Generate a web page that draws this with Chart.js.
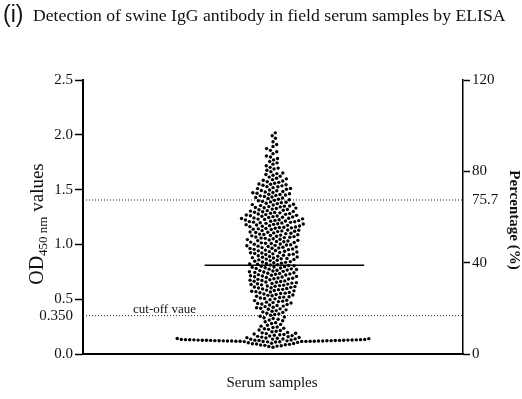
<!DOCTYPE html>
<html>
<head>
<meta charset="utf-8">
<script src="https://cdn.jsdelivr.net/npm/chart.js@4"></script>
<style>
  body { margin: 0; background: #fff; }
  canvas { display: block; }
</style>
</head>
<body>
<canvas id="c" width="522" height="399"></canvas>
<script>
// OD450 values (one per serum sample, estimated per band)
const odValues = [
  2.018, 1.968, 1.992, 1.912, 1.937, 1.858, 1.874, 1.893, 1.806, 1.828, 1.845,
  1.756, 1.771, 1.784, 1.797, 1.703, 1.718, 1.732, 1.744,
  1.652, 1.664, 1.677, 1.689, 1.696, 1.603, 1.614, 1.622, 1.631, 1.638, 1.646,
  1.551, 1.558, 1.566, 1.572, 1.579, 1.585, 1.591, 1.598,
  1.503, 1.509, 1.511, 1.518, 1.526, 1.527, 1.534, 1.540, 1.544, 1.549,
  1.451, 1.455, 1.458, 1.462, 1.467, 1.471, 1.474, 1.478, 1.483, 1.489, 1.492, 1.497,
  1.402, 1.408, 1.413, 1.419, 1.424, 1.428, 1.433, 1.438, 1.443, 1.447,
  1.351, 1.354, 1.359, 1.363, 1.366, 1.372, 1.375, 1.381, 1.384, 1.388, 1.393, 1.398,
  1.301, 1.304, 1.308, 1.311, 1.316, 1.319, 1.322, 1.327, 1.331, 1.334, 1.337, 1.342, 1.345, 1.349,
  1.251, 1.253, 1.257, 1.259, 1.262, 1.265, 1.268, 1.272, 1.274, 1.277, 1.281, 1.284, 1.288, 1.291, 1.294, 1.298,
  1.201, 1.203, 1.206, 1.208, 1.211, 1.214, 1.217, 1.219, 1.222, 1.225, 1.228, 1.231, 1.233, 1.236, 1.239, 1.242, 1.245, 1.248,
  1.151, 1.154, 1.157, 1.159, 1.162, 1.165, 1.168, 1.171, 1.174, 1.177, 1.179, 1.183, 1.186, 1.189, 1.192, 1.195, 1.198,
  1.102, 1.105, 1.108, 1.111, 1.113, 1.117, 1.12, 1.123, 1.126, 1.129, 1.132, 1.136, 1.139, 1.142, 1.145, 1.148,
  1.052, 1.055, 1.058, 1.062, 1.065, 1.068, 1.071, 1.075, 1.078, 1.081, 1.085, 1.088, 1.091, 1.094, 1.098,
  1.001, 1.004, 1.008, 1.011, 1.014, 1.018, 1.021, 1.024, 1.027, 1.031, 1.034, 1.037, 1.041, 1.044, 1.047,
  0.952, 0.955, 0.958, 0.962, 0.965, 0.968, 0.971, 0.974, 0.977, 0.981, 0.984, 0.987, 0.991, 0.994, 0.997,
  0.901, 0.905, 0.908, 0.911, 0.914, 0.917, 0.921, 0.924, 0.927, 0.931, 0.934, 0.938, 0.941, 0.944, 0.948,
  0.852, 0.855, 0.859, 0.862, 0.866, 0.869, 0.872, 0.876, 0.879, 0.883, 0.886, 0.89, 0.893, 0.897,
  0.801, 0.805, 0.808, 0.812, 0.815, 0.819, 0.822, 0.826, 0.829, 0.833, 0.836, 0.84, 0.843, 0.847,
  0.751, 0.754, 0.757, 0.761, 0.764, 0.767, 0.771, 0.774, 0.777, 0.781, 0.784, 0.787, 0.791, 0.794, 0.797,
  0.702, 0.705, 0.708, 0.711, 0.714, 0.718, 0.721, 0.724, 0.727, 0.731, 0.734, 0.737, 0.741, 0.744, 0.748,
  0.651, 0.654, 0.657, 0.661, 0.664, 0.667, 0.671, 0.674, 0.677, 0.681, 0.684, 0.687, 0.691, 0.694, 0.698,
  0.602, 0.605, 0.608, 0.611, 0.615, 0.618, 0.621, 0.624, 0.628, 0.631, 0.634, 0.638, 0.641, 0.644, 0.647,
  0.552, 0.555, 0.559, 0.562, 0.566, 0.569, 0.573, 0.576, 0.58, 0.583, 0.587, 0.59, 0.594, 0.597,
  0.503, 0.507, 0.511, 0.515, 0.519, 0.523, 0.527, 0.531, 0.535, 0.539, 0.543, 0.547,
  0.452, 0.456, 0.461, 0.465, 0.469, 0.473, 0.478, 0.482, 0.487, 0.491, 0.496,
  0.403, 0.408, 0.412, 0.417, 0.422, 0.427, 0.432, 0.437, 0.442, 0.447,
  0.354, 0.36, 0.366, 0.372, 0.378, 0.384, 0.39, 0.396,
  0.303, 0.31, 0.317, 0.324, 0.331, 0.338, 0.345,
  0.254, 0.262, 0.27, 0.278, 0.286, 0.294,
  0.203, 0.208, 0.214, 0.219, 0.225, 0.231, 0.236, 0.242, 0.247,
  0.151, 0.154, 0.157, 0.161, 0.164, 0.168, 0.171, 0.175, 0.178, 0.182, 0.186, 0.189, 0.193, 0.197,
  // negative samples, the long flat row near 0.12
  0.098, 0.102, 0.106, 0.109, 0.111, 0.112, 0.114, 0.115, 0.116, 0.117, 0.118, 0.119,
  0.12, 0.121, 0.122, 0.123, 0.124, 0.125, 0.126, 0.127, 0.128, 0.129, 0.13, 0.131,
  0.132, 0.133, 0.134, 0.136, 0.137, 0.138, 0.14, 0.142, 0.144, 0.146, 0.149, 0.113,
  0.117, 0.121, 0.125, 0.129, 0.119, 0.123, 0.127, 0.115, 0.131,
  0.118, 0.122, 0.126, 0.12, 0.124, 0.128, 0.116,
  0.062, 0.068, 0.072, 0.075, 0.079, 0.082, 0.085, 0.088, 0.091, 0.093, 0.096
];

const meanOD = 0.81;
const meanLineSpan = [-0.36, 0.48];
const cutoffOD = 0.35;
const upperOD = 1.405;
const upperLabel = "75.7";

const leftTicks = [0, 0.35, 0.5, 1.0, 1.5, 2.0, 2.5];
const rightTicks = [0, 40, 80, 120];
const pctPerOD = 120 / 2.5;

const serif = "'Liberation Serif', 'DejaVu Serif', serif";
const ink = "#111";

// text that chart.js can't place on its own (mixed fonts, subscript)
const textPlugin = {
  id: "texts",
  afterDraw(chart) {
    const c = chart.ctx;
    c.save();
    c.fillStyle = ink;
    c.textBaseline = "alphabetic";

    c.font = "23px 'Liberation Sans', Arial, sans-serif";
    c.textAlign = "left";
    c.fillText("(i)", 3, 22);
    c.font = "17.7px " + serif;
    c.fillText("Detection of swine IgG antibody in field serum samples by ELISA", 33, 21);

    // left axis title, OD450 nm values
    const parts = [["OD", "20px " + serif, 0], ["450 nm", "13px " + serif, 4], [" values", "19px " + serif, 0]];
    let total = 0;
    parts.forEach(p => { c.font = p[1]; total += c.measureText(p[0]).width; });
    c.save();
    c.translate(43, 224 + total / 2);
    c.rotate(-Math.PI / 2);
    let x = 0;
    parts.forEach(p => { c.font = p[1]; c.fillText(p[0], x, p[2]); x += c.measureText(p[0]).width; });
    c.restore();

    // right axis title
    c.save();
    c.translate(510, 220);
    c.rotate(Math.PI / 2);
    c.font = "bold 15px " + serif;
    c.textAlign = "center";
    c.fillText("Percentage (%)", 0, 0);
    c.restore();

    c.font = "13px " + serif;
    c.textAlign = "left";
    c.fillText("cut-off vaue", 133, 313);

    c.font = "15px " + serif;
    c.textAlign = "center";
    c.fillText("Serum samples", 272, 387);
    c.restore();
  }
};

const chart = new Chart(document.getElementById("c"), {
  type: "scatter",
  data: {
    datasets: [
      {
        data: odValues.map(v => ({ x: 0, y: v })),
        pointRadius: 1.7,
        pointBorderWidth: 0,
        pointBackgroundColor: "#000",
        pointHoverRadius: 1.7
      },
      {
        type: "line",
        data: [{ x: meanLineSpan[0], y: meanOD }, { x: meanLineSpan[1], y: meanOD }],
        borderColor: "#000",
        borderWidth: 1.5,
        pointRadius: 0
      },
      {
        type: "line",
        data: [{ x: -1, y: upperOD }, { x: 1, y: upperOD }],
        borderColor: "#222",
        borderWidth: 1,
        borderDash: [1, 2],
        pointRadius: 0
      },
      {
        type: "line",
        data: [{ x: -1, y: cutoffOD }, { x: 1, y: cutoffOD }],
        borderColor: "#222",
        borderWidth: 1,
        borderDash: [1, 2],
        pointRadius: 0
      }
    ]
  },
  options: {
    responsive: false,
    animation: false,
    events: [],
    layout: { padding: { top: 80, left: 0, right: 0, bottom: 0 } },
    plugins: { legend: { display: false }, tooltip: { enabled: false } },
    scales: {
      x: {
        type: "linear",
        min: -1,
        max: 1,
        ticks: { display: false },
        grid: { display: false },
        border: { display: true, color: "#000", width: 2 },
        afterFit: s => { s.height = 45; }
      },
      y: {
        position: "left",
        min: 0,
        max: 2.5,
        afterBuildTicks: s => { s.ticks = leftTicks.map(v => ({ value: v })); },
        ticks: {
          autoSkip: false,
          padding: 2,
          color: ink,
          font: { family: serif, size: 15 },
          callback: v => (v === cutoffOD ? "0.350" : v.toFixed(1))
        },
        grid: {
          drawOnChartArea: false,
          tickLength: 8,
          tickWidth: 1.5,
          tickColor: ctx => (ctx.tick && ctx.tick.value === cutoffOD ? "rgba(0,0,0,0)" : "#000")
        },
        border: { color: "#000", width: 2 },
        afterFit: s => { s.width = 83; }
      },
      y1: {
        position: "right",
        min: 0,
        max: 120,
        afterBuildTicks: s => {
          s.ticks = rightTicks.concat([upperOD * pctPerOD]).map(v => ({ value: v }));
        },
        ticks: {
          autoSkip: false,
          padding: 2,
          color: ink,
          font: { family: serif, size: 15 },
          callback: v => (Math.abs(v - upperOD * pctPerOD) < 0.01 ? upperLabel : String(v))
        },
        grid: {
          drawOnChartArea: false,
          tickLength: 7,
          tickWidth: 1.5,
          tickColor: ctx => (ctx.tick && Math.abs(ctx.tick.value - upperOD * pctPerOD) < 0.01 ? "rgba(0,0,0,0)" : "#000")
        },
        border: { color: "#000", width: 1.5 },
        afterFit: s => { s.width = 59; }
      }
    }
  },
  plugins: [textPlugin]
});

// spread the dots sideways like a beeswarm so they don't overlap
function beeswarm(values, xs, ys, d) {
  const pxPerX = xs.getPixelForValue(1) - xs.getPixelForValue(0);
  const order = values.map((v, i) => i).sort((a, b) => values[a] - values[b]);
  const placed = [];
  const out = new Array(values.length);
  order.forEach((i, n) => {
    const py = ys.getPixelForValue(values[i]);
    const near = placed.filter(p => Math.abs(p.y - py) < d);
    const cands = [0];
    near.forEach(p => {
      const dx = Math.sqrt(d * d - (p.y - py) * (p.y - py));
      cands.push(p.x + dx, p.x - dx);
    });
    const side = n % 2 ? 1 : -1;
    cands.sort((a, b) => Math.abs(a) - Math.abs(b) || side * (a - b));
    let px = 0;
    for (const cx of cands) {
      if (near.every(p => (p.x - cx) ** 2 + (p.y - py) ** 2 >= d * d - 0.01)) { px = cx; break; }
    }
    placed.push({ x: px, y: py });
    out[i] = { x: px / pxPerX, y: values[i] };
  });
  return out;
}

chart.data.datasets[0].data = beeswarm(odValues, chart.scales.x, chart.scales.y, 4.2);
chart.update("none");
</script>
</body>
</html>
